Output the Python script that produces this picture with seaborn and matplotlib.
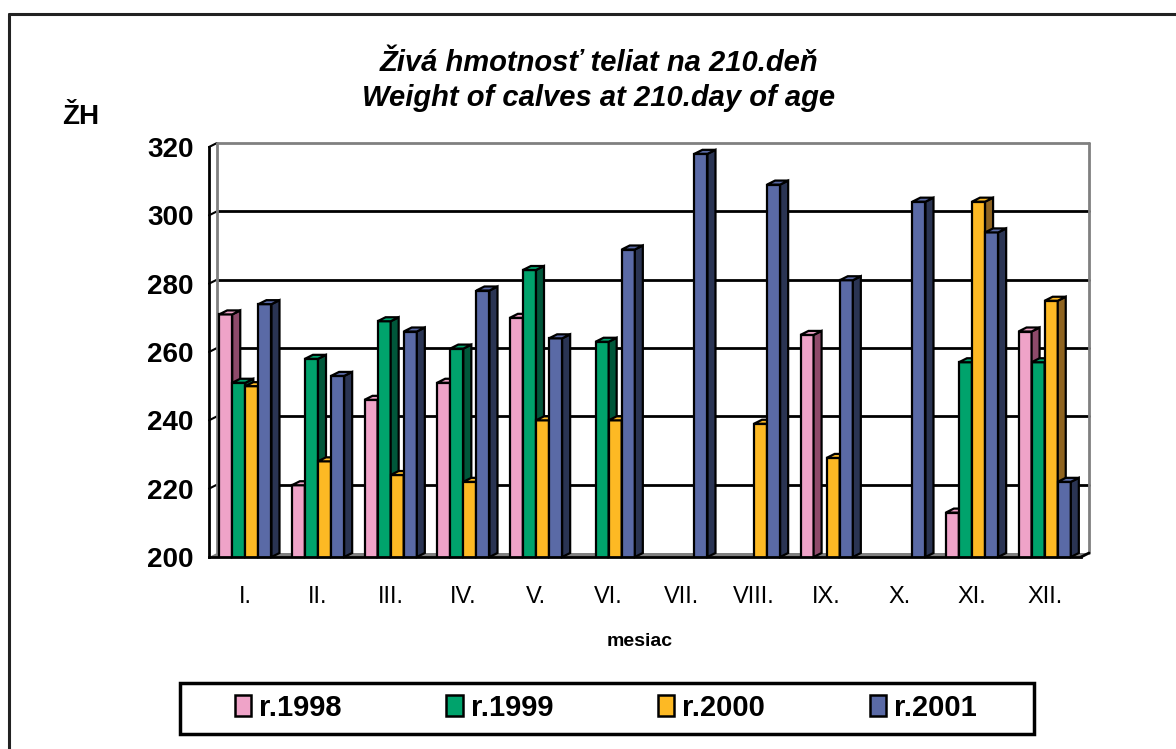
import numpy as np
import pandas as pd
import seaborn as sb
import matplotlib.pyplot as plt
from matplotlib.colors import to_rgb
from matplotlib.patches import Polygon, Rectangle, Patch
from matplotlib.lines import Line2D

nan = np.nan

months = ["I.", "II.", "III.", "IV.", "V.", "VI.", "VII.", "VIII.", "IX.", "X.", "XI.", "XII."]
years = ["r.1998", "r.1999", "r.2000", "r.2001"]
r1998 = [271, 221, 246, 251, 270, nan, nan, nan, 265, nan, 213, 266]
r1999 = [251, 258, 269, 261, 284, 263, nan, nan, nan, nan, 257, 257]
r2000 = [250, 228, 224, 222, 240, 240, nan, 239, 229, nan, 304, 275]
r2001 = [274, 253, 266, 278, 264, 290, 318, 309, 281, 304, 295, 222]

front_colors = ["#EFA3C8", "#00A36C", "#FDB924", "#5A6AA6"]
side_colors = ["#8E4A6A", "#00573A", "#8F6420", "#2A3453"]

W, H = 1176, 749
rows = []
for year, vals in zip(years, [r1998, r1999, r2000, r2001]):
    for m, v in zip(months, vals):
        rows.append({"mesiac": m, "rok": year, "ZH": v})
df = pd.DataFrame(rows)

sb.set_style("white")
plt.rcParams["font.family"] = ["Liberation Sans", "DejaVu Sans"]
plt.rcParams["text.color"] = "black"
plt.rcParams["xtick.color"] = "black"
plt.rcParams["ytick.color"] = "black"

fig = plt.figure(figsize=(W / 100, H / 100), dpi=100)
# front plane of the 3d box, in pixels
left, right, top, bottom = 209, 1081, 147, 557
ax = fig.add_axes([left / W, 1 - bottom / H, (right - left) / W, (bottom - top) / H])

sb.barplot(
    data=df,
    x="mesiac",
    y="ZH",
    hue="rok",
    order=months,
    hue_order=years,
    palette=front_colors,
    saturation=1,
    width=0.72,
    edgecolor="black",
    linewidth=1.6,
    legend=False,
    ax=ax,
)
ax.set_xlim(-0.5, 11.5)
ax.set_ylim(200, 320)
ax.set_xlabel("")
ax.set_ylabel("")

# depth of the 3d effect: 8 px right, 4 px up
dx = 8 * 12 / (right - left)
dy = 4 * 120 / (bottom - top)
x0, x1 = -0.5, 11.5

# back wall gridlines and frame
for yv in range(220, 320, 20):
    ax.plot([x0 + dx, x1 + dx], [yv + dy, yv + dy], color="black", lw=2, zorder=0.5, clip_on=False)
    ax.plot([x0, x0 + dx], [yv, yv + dy], color="black", lw=1.5, zorder=0.5, clip_on=False)
ax.plot([x0, x0 + dx], [320, 320 + dy], color="black", lw=1.5, zorder=0.5, clip_on=False)
ax.plot([x0 + dx, x1 + dx], [320 + dy, 320 + dy], color="#808080", lw=2, zorder=0.5, clip_on=False)
ax.plot([x0 + dx, x0 + dx], [200 + dy, 320 + dy], color="#808080", lw=2, zorder=0.5, clip_on=False)
ax.plot([x1 + dx, x1 + dx], [200 + dy, 320 + dy], color="#808080", lw=2, zorder=0.5, clip_on=False)
ax.add_patch(Polygon([(x0, 200), (x1, 200), (x1 + dx, 200 + dy), (x0 + dx, 200 + dy)],
                     closed=True, facecolor="#808080", edgecolor="none", zorder=0.6, clip_on=False))
ax.plot([x1, x1 + dx], [200, 200 + dy], color="black", lw=2, zorder=2.6, clip_on=False)

# 3d sides and caps for the bars
bars = [p for p in ax.patches if isinstance(p, Rectangle) and np.isfinite(p.get_height()) and p.get_height() > 0]
bars.sort(key=lambda p: p.get_x())
for i, p in enumerate(bars):
    z = 2 + i * 0.001
    p.set_zorder(z)
    fc = p.get_facecolor()
    k = min(range(4), key=lambda j: sum(abs(a - b) for a, b in zip(fc[:3], to_rgb(front_colors[j]))))
    bx0, bx1, h = p.get_x(), p.get_x() + p.get_width(), p.get_height()
    ax.add_patch(Polygon([(bx1, 200), (bx1 + dx, 200 + dy), (bx1 + dx, h + dy), (bx1, h)], closed=True,
                         facecolor=side_colors[k], edgecolor="black", lw=1.6, zorder=z, clip_on=False))
    ax.add_patch(Polygon([(bx0, h), (bx1, h), (bx1 + dx, h + dy), (bx0 + dx, h + dy)], closed=True,
                         facecolor=front_colors[k], edgecolor="black", lw=1.6, zorder=z, clip_on=False))

for s in ["top", "right"]:
    ax.spines[s].set_visible(False)
for s in ["left", "bottom"]:
    ax.spines[s].set_color("black")
    ax.spines[s].set_linewidth(2)
    ax.spines[s].set_zorder(2.5)

ax.set_yticks(range(200, 321, 20))
ax.tick_params(axis="y", length=6, width=1.5, direction="out", pad=5, labelsize=20)
plt.setp(ax.get_yticklabels(), fontweight="bold")
ax.set_xticks(range(12))
ax.set_xticklabels(months)
ax.set_xticks(np.arange(-0.5, 12, 1), minor=True)
ax.tick_params(axis="x", which="major", length=0, pad=21, labelsize=17)
ax.tick_params(axis="x", which="minor", length=7, width=1.5, direction="out")

# texts
fig.text(599 / W, 1 - 63 / H, "Živá hmotnosť teliat na 210.deň", ha="center", va="center",
         fontsize=21, fontweight="bold", fontstyle="italic")
fig.text(599 / W, 1 - 98 / H, "Weight of calves at 210.day of age", ha="center", va="center",
         fontsize=21, fontweight="bold", fontstyle="italic")
fig.text(81 / W, 1 - 117 / H, "ŽH", ha="center", va="center", fontsize=20, fontweight="bold")
fig.text(640 / W, 1 - 641 / H, "mesiac", ha="center", va="center", fontsize=14, fontweight="bold")

# legend box
fig.patches.append(Rectangle((180 / W, 1 - 734 / H), 854 / W, 51 / H, transform=fig.transFigure,
                             facecolor="none", edgecolor="black", lw=2.5))
handles = [Patch(facecolor=c, edgecolor="black", lw=1.8, label=y) for c, y in zip(front_colors, years)]
leg = fig.legend(handles=handles, loc="center", bbox_to_anchor=(606 / W, 1 - 708 / H), ncol=4,
                 frameon=False, prop={"size": 21, "weight": "bold"}, handlelength=0.55,
                 handleheight=0.72, handletextpad=0.28, columnspacing=3.6)

# outer border (top and left edges only are visible)
fig.add_artist(Line2D([9 / W, 1], [1 - 14 / H, 1 - 14 / H], transform=fig.transFigure, color="#222222", lw=2.2))
fig.add_artist(Line2D([9 / W, 9 / W], [1 - 14 / H, 0], transform=fig.transFigure, color="#222222", lw=2.2))

plt.savefig("out.png", dpi=100)
